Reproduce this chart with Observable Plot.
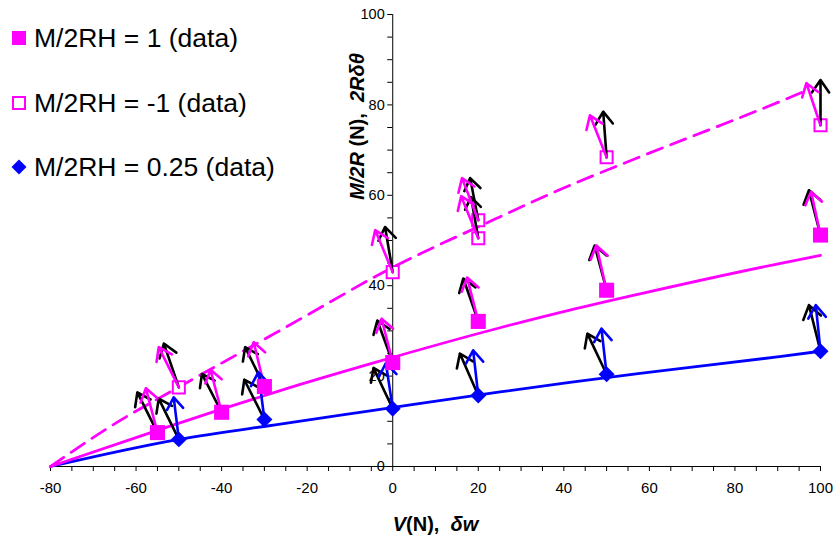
<!DOCTYPE html>
<html><head><meta charset="utf-8">
<script src="https://cdn.jsdelivr.net/npm/d3@7"></script>
<script src="https://cdn.jsdelivr.net/npm/@observablehq/plot@0.6"></script>
<style>
body{margin:0;background:#fff;font-family:"Liberation Sans",Arial,sans-serif;}
#wrap{position:relative;width:834px;height:541px;}
.item{position:absolute;left:10px;height:30px;display:flex;align-items:center;font-size:26.5px;color:#000;white-space:nowrap;}
.item svg{margin-right:6px;}
</style></head><body>
<div id="wrap"></div>
<script>
// ---- axis ticks ----
const xMinorTicks = [-80,-75,-70,-65,-60,-55,-50,-45,-40,-35,-30,-25,-20,-15,-10,-5,0,5,10,15,20,25,30,35,40,45,50,55,60,65,70,75,80,85,90,95,100];
const xTickLabels = [-80,-60,-40,-20,0,20,40,60,80,100];
const yMinorTicks = [0,5,10,15,20,25,30,35,40,45,50,55,60,65,70,75,80,85,90,95,100];
const yTickLabels = [0,20,40,60,80,100];
const seriesNames = ["M/2RH = 1 (data)", "M/2RH = -1 (data)", "M/2RH = 0.25 (data)"];
const xLabel = "V(N),  δw";
const yLabel = "M/2R (N),  2Rδθ";

// ---- series: M/2RH = 1 (filled squares) ----
const posX = [-55, -40, -30, 0, 20, 50, 100];
const posY = [7.5, 12, 17.7, 23, 32.1, 39, 51.2];
const posBlackTipX = [-59.7, -44.6, -34.5, -3.6, 16.5, 47.2, 97.3];
const posBlackTipY = [16.4, 20.5, 26.4, 32.3, 41.6, 48.9, 61.1];
const posColorTipX = [-57.7, -42.6, -32.5, -2.6, 17.4, 47.6, 97.8];
const posColorTipY = [17.3, 21.4, 27.5, 32.7, 41.8, 48.9, 60.8];

// ---- series: M/2RH = -1 (open squares) ----
const negX = [-50, 0, 20, 20, 50, 100];
const negY = [17.5, 43, 50.5, 54.5, 68.4, 75.5];
const negBlackTipX = [-53.5, -1.8, 18.3, 18.1, 49.2, 100];
const negBlackTipY = [27.2, 53.0, 59.6, 63.8, 78.5, 85.5];
const negColorTipX = [-54.7, -4.1, 16.0, 16.2, 46.1, 96.7];
const negColorTipY = [26.4, 52.3, 59.8, 63.8, 77.7, 84.8];

// ---- series: M/2RH = 0.25 (diamonds) ----
const qX = [-50, -30, 0, 20, 50, 100];
const qY = [6, 10.4, 12.8, 15.7, 20.4, 25.5];
const qBlackTipX = [-54.7, -34.7, -4.5, 15.7, 45.5, 97.3];
const qBlackTipY = [15.0, 19.2, 21.8, 25.0, 29.4, 35.7];
const qColorTipX = [-51.2, -31.4, -1.6, 18.8, 48.8, 98.9];
const qColorTipY = [15.3, 20.9, 22.9, 25.7, 30.5, 35.7];

// ---- model curves ----
const curvePosX = [-80, -55, -40, -26.3, -5.3, 25.1, 41.4, 57.8, 90.4, 100];
const curvePosY = [0, 8.0, 12.7, 16.8, 22.7, 30.7, 34.6, 38.2, 44.9, 46.7];
const curveNegX = [-80, -63.7, -53.5, -27.1, -14.6, -5.3, 24.3, 41.4, 55.4, 90.4, 97];
const curveNegY = [0, 10.2, 15.7, 29.7, 36.4, 41.4, 54.9, 62.2, 67.6, 80.7, 83.3];
const curveQX = [-80, -50, -26.3, -5.3, 25.1, 41.4, 57.8, 90.4, 100];
const curveQY = [0, 6.0, 9.4, 12.3, 16.5, 18.6, 20.6, 24.3, 25.5];

const MAGENTA = "#FF00FF", BLUE = "#0000FF";

const pts = (xs, ys) => xs.map((x, i) => ({x, y: ys[i]}));
const arr = (xs, ys, tx, ty) => xs.map((x, i) => ({x1: x, y1: ys[i], x2: tx[i], y2: ty[i]}));

const arrowOpts = {strokeWidth: 2.6, headLength: 10, headAngle: 70};

const chart = Plot.plot({
  width: 834, height: 541,
  marginLeft: 50, marginRight: 14, marginTop: 14, marginBottom: 75,
  x: {domain: [-80, 100]},
  y: {domain: [0, 100], axis: null},
  style: {fontFamily: "'Liberation Sans', Arial, sans-serif", fontSize: "14px", background: "#fff", color: "#000"},
  marks: [
    Plot.axisX(xMinorTicks, {tickSize: 5, tickPadding: 11, fontSize: 15, label: null,
      tickFormat: d => xTickLabels.includes(d) ? String(d) : ""}),
    Plot.ruleY([0], {stroke: "#000"}),
    Plot.ruleX([0], {y1: 0, y2: 100, stroke: "#000"}),
    Plot.ruleY(yMinorTicks, {y: d => d, x1: 0, x2: 0, insetLeft: -5, stroke: "#000"}),
    Plot.text(yTickLabels, {x: 0, y: d => d, text: d => String(d), textAnchor: "end", dx: -8, fontSize: 14.5}),
    Plot.line(pts(curveQX, curveQY), {x: "x", y: "y", stroke: BLUE, strokeWidth: 2.8, curve: "monotone-x"}),
    Plot.line(pts(curvePosX, curvePosY), {x: "x", y: "y", stroke: MAGENTA, strokeWidth: 2.8, curve: "monotone-x"}),
    Plot.line(pts(curveNegX, curveNegY), {x: "x", y: "y", stroke: MAGENTA, strokeWidth: 2.8, strokeDasharray: "16,9", curve: "monotone-x"}),
    Plot.dot(pts(negX, negY), {x: "x", y: "y", symbol: "square", r: 6.8, stroke: MAGENTA, strokeWidth: 2, fill: "#fff"}),
    Plot.arrow(arr(posX, posY, posBlackTipX, posBlackTipY), {x1: "x1", y1: "y1", x2: "x2", y2: "y2", stroke: "#000", ...arrowOpts}),
    Plot.arrow(arr(negX, negY, negBlackTipX, negBlackTipY), {x1: "x1", y1: "y1", x2: "x2", y2: "y2", stroke: "#000", ...arrowOpts}),
    Plot.arrow(arr(qX, qY, qBlackTipX, qBlackTipY), {x1: "x1", y1: "y1", x2: "x2", y2: "y2", stroke: "#000", ...arrowOpts}),
    Plot.arrow(arr(posX, posY, posColorTipX, posColorTipY), {x1: "x1", y1: "y1", x2: "x2", y2: "y2", stroke: MAGENTA, ...arrowOpts}),
    Plot.arrow(arr(negX, negY, negColorTipX, negColorTipY), {x1: "x1", y1: "y1", x2: "x2", y2: "y2", stroke: MAGENTA, ...arrowOpts}),
    Plot.arrow(arr(qX, qY, qColorTipX, qColorTipY), {x1: "x1", y1: "y1", x2: "x2", y2: "y2", stroke: BLUE, ...arrowOpts}),
    Plot.dot(pts(posX, posY), {x: "x", y: "y", symbol: "square", r: 8.5, fill: MAGENTA}),
    Plot.dot(pts(qX, qY), {x: "x", y: "y", symbol: "diamond2", r: 7.2, fill: BLUE}),
    Plot.text([xLabel], {text: d => d, frameAnchor: "bottom", textAnchor: "middle", lineAnchor: "middle", dy: 58, fontSize: 20, fontWeight: "bold"}),
    Plot.text([yLabel], {text: d => d, frameAnchor: "top-left", textAnchor: "middle", lineAnchor: "middle", dx: 307, dy: 112, rotate: -90, fontSize: 20, fontWeight: "bold"})
  ]
});

function styleLabel(svg, full, parts) {
  const t = Array.from(svg.querySelectorAll("text")).find(e => e.textContent === full);
  if (!t) return;
  t.textContent = "";
  t.setAttribute("style", "white-space:pre");
  for (const [s, it] of parts) {
    const ts = document.createElementNS("http://www.w3.org/2000/svg", "tspan");
    ts.textContent = s;
    if (it) ts.setAttribute("font-style", "italic");
    t.appendChild(ts);
  }
}
styleLabel(chart, xLabel, [["V", true], ["(N),  ", false], ["δw", true]]);
styleLabel(chart, yLabel, [["M/2R", true], [" (N),  ", false], ["2Rδθ", true]]);

const wrap = document.getElementById("wrap");
wrap.appendChild(chart);

// legend overlay
const swatches = [
  `<svg width="18" height="18"><rect x="2" y="2" width="14" height="14" fill="${MAGENTA}"/></svg>`,
  `<svg width="18" height="18"><rect x="3" y="3" width="12" height="12" fill="#fff" stroke="${MAGENTA}" stroke-width="2"/></svg>`,
  `<svg width="18" height="18"><path d="M9,1.5L16.5,9L9,16.5L1.5,9Z" fill="${BLUE}"/></svg>`
];
const rowCenters = [38, 103, 167];
seriesNames.forEach((name, i) => {
  const div = document.createElement("div");
  div.className = "item";
  div.style.top = (rowCenters[i] - 15) + "px";
  div.innerHTML = swatches[i] + `<span>${name}</span>`;
  wrap.appendChild(div);
});
</script></body></html>
